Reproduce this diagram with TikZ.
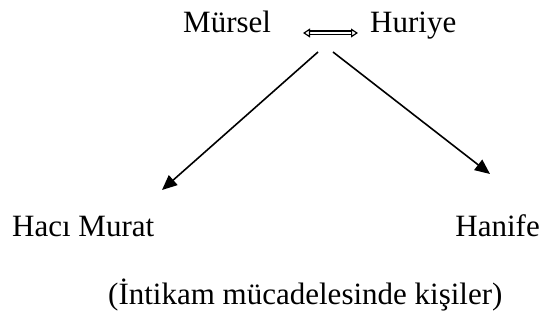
\documentclass[tikz,border=0pt]{standalone}
\usepackage{fontspec}
\setmainfont{Liberation Serif}
\usetikzlibrary{arrows.meta}
\begin{document}
\begin{tikzpicture}[x=1pt,y=-1pt,
  lbl/.style={inner sep=0pt,font=\fontsize{31}{36}\selectfont},
  conn/.style={line width=1.6pt,-{Triangle[length=15pt,width=13pt]}},
  dbl/.style={double,double distance=2.6pt,line width=1.2pt,
    {Triangle[open,length=7pt,width=9pt]}-{Triangle[open,length=7pt,width=9pt]}}]
\useasboundingbox (0,0) rectangle (542,320);
\node[lbl,anchor=base west] (mu) at (183,33) {Mürsel};
\node[lbl,anchor=base west] (hu) at (370,33) {Huriye};
\node[lbl,anchor=base west] (hm) at (12,237) {Hacı Murat};
\node[lbl,anchor=base east] (ha) at (540,237) {Hanife};
\node[lbl,anchor=base west] (cap) at (108,305) {(İntikam mücadelesinde kişiler)};
\coordinate (dl) at (303,33);
\coordinate (dr) at (358,33);
\coordinate (sl) at (318,52);
\coordinate (sr) at (333,52);
\coordinate (el) at (162,190);
\coordinate (er) at (490,174);
\draw[dbl] (dl) -- (dr);
\draw[conn] (sl) -- (el);
\draw[conn] (sr) -- (er);
\end{tikzpicture}
\end{document}
